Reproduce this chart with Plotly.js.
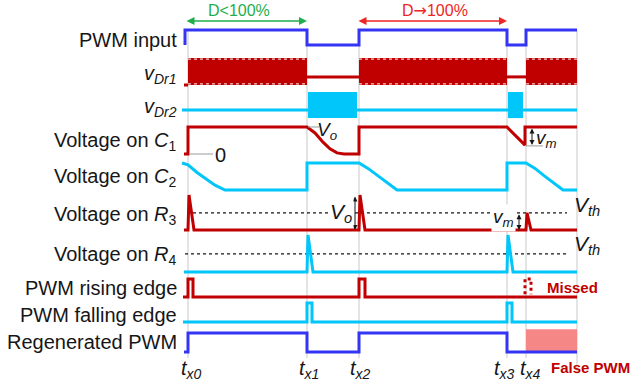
<!DOCTYPE html>
<html>
<head>
<meta charset="utf-8">
<script src="https://cdn.plot.ly/plotly-3.0.1.min.js"></script>
<style>
  html, body { margin: 0; padding: 0; background: #ffffff; }
  #chart { width: 633px; height: 383px; }
</style>
</head>
<body>
<div id="chart"></div>
<script>
// ---- Timing data (time in arbitrary units, levels normalised: 0 = low, 1 = peak) ----
const edgeNames = ['x0', 'x1', 'x2', 'x3', 'x4'];
const edgeTimes = [0, 119, 171, 319, 338];
const tEnd = 389;

const pwmInT = [-3, -3, 119, 119, 171, 171, 319, 319, 338, 338, 389];
const pwmInV = [0, 1, 1, 0, 0, 1, 1, 0, 0, 1, 1];

const dr1IdleT = [-4, 0, null, 119, 171, null, 319, 338];
const dr1IdleV = [0, 0, null, 0.3, 0.3, null, 0.3, 0.3];
const dr1Bursts = [[0, 119], [171, 319], [338, 389]];

const dr2IdleT = [-6, 389];
const dr2IdleV = [0, 0];
const dr2Bursts = [[120, 169], [320, 335]];
const dr2BurstLow = -0.45;

const c1T = [-4, 0, 0, 119, 127, 135, 142, 149, 156, 171, 171, 319, 337, 337, 389];
const c1V = [0, 0, 1, 1, 0.78, 0.44, 0.19, 0.04, 0, 0, 1, 1, 0.33, 1, 1];

const c2T = [-6, 0, 9, 18, 27, 37, 119, 119, 171, 180, 190, 200, 209, 319, 319, 338, 347, 356, 366, 375, 389];
const c2V = [1, 0.93, 0.65, 0.4, 0.18, 0, 0, 1, 1, 0.8, 0.53, 0.26, 0, 0, 1, 1, 0.8, 0.53, 0.26, 0, 0];

const r3T = [-4, 0, 1, 6, 171, 172, 177, 338, 339, 343, 389];
const r3V = [0, 0, 1, 0, 0, 1, 0, 0, 0.49, 0, 0];
const r3Vth = 0.49;

const r4T = [-4, 119, 120, 125, 319, 320, 325, 389];
const r4V = [0, 0, 1, 0, 0, 1, 0, 0];
const r4Vth = 0.49;

const riseT = [-5, 0, 0, 5, 5, 171, 171, 177, 177, 389];
const riseV = [0, 0, 1, 1, 0, 0, 1, 1, 0, 0];
const missedT = [337, 337, 343, 343];
const missedV = [0.15, 1, 1, 0.15];

const fallT = [-5, 119, 119, 124, 124, 319, 319, 324, 324, 389];
const fallV = [0, 0, 1, 1, 0, 0, 1, 1, 0, 0];

const regenT = [-4, 0, 0, 119, 119, 171, 171, 319, 319, 389];
const regenV = [0, 0, 1, 1, 0, 0, 1, 1, 0, 0];
const falseT = [338, 389];
const falseTop = 1.2;

const rowLabels = ['PWM input', '<i>v<sub>Dr1</sub></i>', '<i>v<sub>Dr2</sub></i>',
  'Voltage on <i>C</i><sub>1</sub>', 'Voltage on <i>C</i><sub>2</sub>',
  'Voltage on <i>R</i><sub>3</sub>', 'Voltage on <i>R</i><sub>4</sub>',
  'PWM rising edge', 'PWM falling edge', 'Regenerated PWM'];

// ---- Row placement on the vertical axis (baseline and swing of each trace) ----
const rows = {
  pwmIn: { base: 45, amp: 15, label: 40 },
  dr1:   { base: 85, amp: 27, label: 74 },
  dr2:   { base: 110, amp: 18, label: 107 },
  c1:    { base: 154, amp: 27, label: 141 },
  c2:    { base: 190, amp: 27, label: 177 },
  r3:    { base: 230, amp: 35, label: 215 },
  r4:    { base: 272, amp: 37, label: 255 },
  rise:  { base: 297, amp: 18, label: 288 },
  fall:  { base: 322, amp: 19, label: 315 },
  regen: { base: 352, amp: 19, label: 342 }
};
const rowOrder = ['pwmIn', 'dr1', 'dr2', 'c1', 'c2', 'r3', 'r4', 'rise', 'fall', 'regen'];

const RED = '#c00000', CYAN = '#00c6fa', BLUE = '#3434f4', GREEN = '#1fae4b',
      BRIGHTRED = '#ee2525', PINK = '#f58787', GRID = '#c9c9c9', INK = '#161616';
const FONT = 'Liberation Sans, Arial, sans-serif';

const yOf = (row, vals) => vals.map(v => v === null ? null : rows[row].base - v * rows[row].amp);

function line(row, t, v, color, extra) {
  return Object.assign({
    type: 'scatter', mode: 'lines', x: t, y: yOf(row, v),
    line: { color: color, width: 3 }, hoverinfo: 'skip', connectgaps: false
  }, extra || {});
}

function block(row, a, b, lo, hi, color) {
  return {
    type: 'scatter', mode: 'lines', x: [a, a, b, b, a],
    y: yOf(row, [lo, hi, hi, lo, lo]), fill: 'toself', fillcolor: color,
    line: { width: 0, color: color }, hoverinfo: 'skip'
  };
}

const traces = [];

// PWM input
traces.push(line('pwmIn', pwmInT, pwmInV, BLUE));

// Driver 1: idle level and switching bursts
traces.push(line('dr1', dr1IdleT, dr1IdleV, RED));
dr1Bursts.forEach(([a, b]) => {
  traces.push(block('dr1', a, b, 0, 1, RED));
  [0.04, 0.96].forEach(lv => traces.push({
    type: 'scatter', mode: 'lines', x: [a, b], y: yOf('dr1', [lv, lv]),
    line: { color: '#ffffff', width: 1, dash: 'dot' }, hoverinfo: 'skip'
  }));
});

// Driver 2
traces.push(line('dr2', dr2IdleT, dr2IdleV, CYAN));
dr2Bursts.forEach(([a, b]) => traces.push(block('dr2', a, b, dr2BurstLow, 1, CYAN)));

// Capacitor and resistor voltages
traces.push(line('c1', c1T, c1V, RED));
traces.push(line('c2', c2T, c2V, CYAN));
traces.push(line('r3', r3T, r3V, RED));
traces.push(line('r4', r4T, r4V, CYAN));

// Edge detectors
traces.push(line('rise', riseT, riseV, RED));
traces.push(line('rise', missedT, missedV, RED, { line: { color: RED, width: 3, dash: 'dot' } }));
traces.push(line('fall', fallT, fallV, CYAN));

// Regenerated PWM and the false high interval
traces.push(block('regen', falseT[0], falseT[1], 0, falseTop, PINK));
traces.push(line('regen', regenT, regenV, BLUE));

// ---- Shapes: time markers and threshold lines ----
const shapes = [];
edgeTimes.concat([tEnd]).forEach((t, i) => shapes.push({
  type: 'line', layer: 'below', x0: t, x1: t, y0: 30, y1: i === edgeTimes.length ? 374 : 358,
  line: { color: GRID, width: 1 }
}));
const thr = (row, lv, a, b) => ({
  type: 'line', layer: 'below', x0: a, x1: b,
  y0: yOf(row, [lv])[0], y1: yOf(row, [lv])[0],
  line: { color: INK, width: 1.2, dash: 'dot' }
});
shapes.push(thr('r3', r3Vth, 5, tEnd - 10));
shapes.push(thr('r4', r4Vth, -3, tEnd - 10));
// zero reference of C1 and small guide ticks
shapes.push({ type: 'line', x0: 2, x1: 25, y0: rows.c1.base, y1: rows.c1.base, line: { color: '#9a9a9a', width: 1 } });
shapes.push({ type: 'line', x0: 120, x1: 131, y0: rows.c1.base - rows.c1.amp, y1: rows.c1.base - rows.c1.amp, line: { color: '#9a9a9a', width: 1 } });
shapes.push({ type: 'line', x0: 338, x1: 355, y0: rows.c1.base - 0.3 * rows.c1.amp, y1: rows.c1.base - 0.3 * rows.c1.amp, line: { color: '#9a9a9a', width: 1 } });

// ---- Annotations ----
const annotations = [];
const txt = (x, y, text, opts) => annotations.push(Object.assign({
  x: x, y: y, xref: 'x', yref: 'y', text: text, showarrow: false,
  font: { family: FONT, size: 20, color: INK }, xanchor: 'center', yanchor: 'middle'
}, opts || {}));
const arrow = (x0, y0, x1, y1, color, w) => annotations.push({
  x: x1, y: y1, ax: x0, ay: y0, xref: 'x', yref: 'y', axref: 'x', ayref: 'y',
  text: '', showarrow: true, arrowhead: 2, arrowside: 'end+start', arrowsize: 1,
  arrowwidth: w, arrowcolor: color, standoff: 0, startstandoff: 0
});

rowOrder.forEach((r, i) => txt(-9, rows[r].label, rowLabels[i], { xanchor: 'right' }));

const tLabelShift = [3, 2, 1, -3, 4];
edgeTimes.forEach((t, i) => txt(t + tLabelShift[i], 369, '<i>t<sub>' + edgeNames[i] + '</sub></i>'));

// duty-cycle spans
arrow(-3, 21, edgeTimes[1], 21, GREEN, 1.6);
txt(51, 10, 'D&lt;100%', { font: { family: FONT, size: 16, color: GREEN } });
arrow(edgeTimes[2] - 2, 21, edgeTimes[3], 21, BRIGHTRED, 1.6);
txt(247, 10, 'D<span style="font-family:DejaVu Sans">→</span>100%', { font: { family: FONT, size: 16, color: BRIGHTRED } });

// C1 annotations
txt(32, 155, '0', { font: { family: FONT, size: 20, color: INK } });
txt(139, 131, '<i>V<sub>o</sub></i>', { font: { family: FONT, size: 19, color: INK } });
arrow(344, rows.c1.base - rows.c1.amp, 344, rows.c1.base - 0.33 * rows.c1.amp, INK, 1);
txt(358, 139, '<i>v<sub>m</sub></i>', { font: { family: FONT, size: 19, color: INK } });

// R3 annotations
arrow(167, rows.r3.base - rows.r3.amp, 167, rows.r3.base, INK, 1);
txt(153, 213, '<i>V<sub>o</sub></i>', { bgcolor: '#ffffff', font: { family: FONT, size: 21, color: INK } });
arrow(331, rows.r3.base - r3Vth * rows.r3.amp, 331, rows.r3.base, INK, 1);
txt(315, 218, '<i>v<sub>m</sub></i>', { bgcolor: '#ffffff', font: { family: FONT, size: 19, color: INK } });
txt(384, 206, '<i>V<sub>th</sub></i>', { xanchor: 'left', font: { family: FONT, size: 21, color: INK } });
txt(384, 245, '<i>V<sub>th</sub></i>', { xanchor: 'left', font: { family: FONT, size: 21, color: INK } });

// failure callouts
txt(357, 287, '<b>Missed</b>', { xanchor: 'left', font: { family: FONT, size: 15, color: RED } });
txt(361, 367, '<b>False PWM</b>', { xanchor: 'left', font: { family: FONT, size: 15, color: RED } });

const layout = {
  width: 633, height: 383,
  margin: { l: 0, r: 0, t: 0, b: 0, pad: 0 },
  paper_bgcolor: '#ffffff', plot_bgcolor: '#ffffff',
  showlegend: false,
  xaxis: { range: [-188, 445], visible: false, fixedrange: true },
  yaxis: { range: [383, 0], visible: false, fixedrange: true },
  shapes: shapes,
  annotations: annotations
};

Plotly.newPlot('chart', traces, layout, { staticPlot: true, displayModeBar: false });
</script>
</body>
</html>
